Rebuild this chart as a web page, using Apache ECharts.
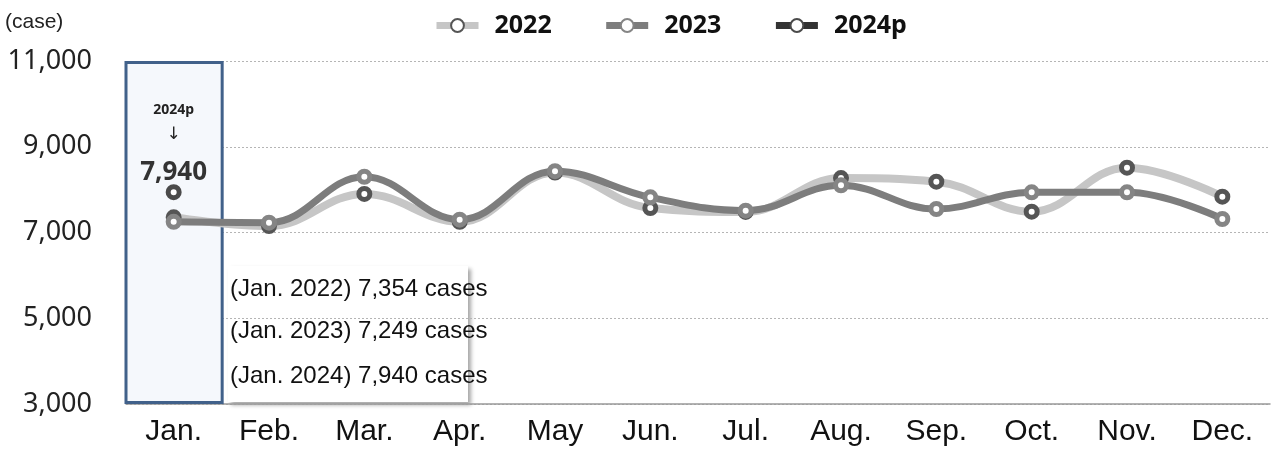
<!DOCTYPE html>
<html><head><meta charset="utf-8">
<script src="https://cdn.jsdelivr.net/npm/echarts@6/dist/echarts.min.js"></script>
<style>html,body{margin:0;padding:0;background:#fff}#c{width:1275px;height:459px}</style>
</head><body><div id="c"></div>
<script>
const categories = ['Jan.','Feb.','Mar.','Apr.','May','Jun.','Jul.','Aug.','Sep.','Oct.','Nov.','Dec.'];
const seriesNames = ['2022','2023','2024p'];
const values2022 = [7354,7150,7900,7250,8400,7570,7480,8270,8185,7486,8512,7836];
const values2023 = [7249,7230,8300,7300,8430,7820,7510,8100,7548,7937,7937,7315];
const values2024p = [7940,null,null,null,null,null,null,null,null,null,null,null];
const yTicks = [3000,5000,7000,9000,11000];
const highlightCategory = 'Jan.';
const unitLabel = '(case)';

const fmt = v => v.toLocaleString('en-US');
const hi = categories.indexOf(highlightCategory);
const janLines = [values2022, values2023, values2024p].map((arr, i) =>
  '(' + highlightCategory + ' ' + seriesNames[i].replace('p','') + ') ' + fmt(arr[hi]) + ' cases');

const chart = echarts.init(document.getElementById('c'), null, {renderer:'canvas'});
const markerStyle = (border) => ({color:'#ffffff', borderColor:border, borderWidth:5});
chart.setOption({
  animation:false,
  grid:{left:126, right:5, top:61, bottom:55},
  legend:{
    data:seriesNames, top:8, left:428, itemWidth:42, itemHeight:16, itemGap:51,
    lineStyle:{width:7},
    textStyle:{fontFamily:'Noto Sans', fontWeight:'bold', fontSize:25, color:'#111', padding:[0,0,0,11]}
  },
  xAxis:{
    type:'category', data:categories, boundaryGap:true,
    axisLine:{lineStyle:{color:'#999', width:1.5}},
    axisTick:{alignWithLabel:true, inside:true, length:6, lineStyle:{color:'#999'}},
    axisLabel:{fontFamily:'Liberation Sans', fontSize:30, color:'#111', margin:13}
  },
  yAxis:[{
    type:'value', min:yTicks[0], max:yTicks[yTicks.length-1], interval:2000,
    name:unitLabel, nameLocation:'end', nameGap:0,
    nameTextStyle:{fontFamily:'Liberation Sans', fontSize:21, color:'#222', align:'left', verticalAlign:'bottom', padding:[0,0,28,-121]},
    axisLine:{show:false}, axisTick:{show:false},
    axisLabel:{fontFamily:'Noto Sans', fontSize:27, color:'#222', margin:34, formatter:v=>fmt(v)},
    splitLine:{lineStyle:{color:'#b5b5b5', type:[2,2], width:1}}
  },{
    type:'value', min:0, max:1, show:false
  }],
  series:[
    {
      type:'bar', yAxisIndex:1, z:1, barWidth:100, silent:true,
      data:categories.map(c => c===highlightCategory ? 1 : '-'),
      itemStyle:{color:'#f5f8fc', borderColor:'#41618a', borderWidth:3}
    },
    {
      name:seriesNames[0], type:'line', z:3, data:values2022, smooth:0.4,
      symbol:'circle', symbolSize:11,
      lineStyle:{color:'#c6c6c6', width:8},
      itemStyle:markerStyle('#555555')
    },
    {
      name:seriesNames[1], type:'line', z:4, data:values2023, smooth:0.4,
      symbol:'circle', symbolSize:11,
      lineStyle:{color:'#7d7d7d', width:7},
      itemStyle:markerStyle('#858585')
    },
    {
      name:seriesNames[2], type:'line', z:5, data:values2024p,
      symbol:'circle', symbolSize:11,
      lineStyle:{color:'#333333', width:7},
      itemStyle:markerStyle('#4a4a4a'),
      label:{
        show:true, position:'top', distance:0, offset:[0,5],
        formatter:p => '{a|' + p.seriesName + '}\n{b|↓}\n{c|' + fmt(p.value) + '}',
        rich:{
          a:{fontFamily:'Noto Sans', fontWeight:'bold', fontSize:14, color:'#222', lineHeight:6},
          b:{fontFamily:'DejaVu Sans', fontSize:17, color:'#222', lineHeight:42},
          c:{fontFamily:'Noto Sans', fontWeight:'bold', fontSize:26, color:'#333', lineHeight:34}
        }
      }
    }
  ],
  graphic:[{
    type:'group', left:228, top:266, z:100,
    children:[
      {type:'rect', shape:{x:0,y:0,width:240,height:136},
       style:{fill:'#ffffff', shadowBlur:4, shadowOffsetX:3, shadowOffsetY:3, shadowColor:'rgba(0,0,0,0.35)'}},
      ...janLines.map((t,i)=>({type:'text', x:2, y:[23,65,110][i],
        style:{text:t, font:'24px "Liberation Sans"', fill:'#111', textVerticalAlign:'middle'}}))
    ]
  }]
});
</script></body></html>
